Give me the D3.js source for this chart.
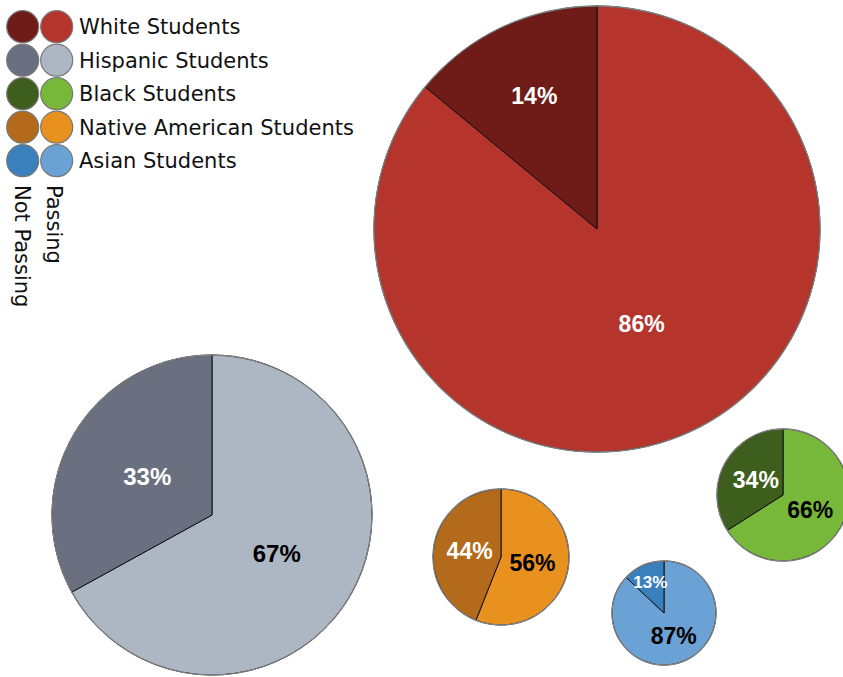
<!DOCTYPE html>
<html>
<head>
<meta charset="utf-8">
<script src="https://cdn.jsdelivr.net/npm/d3@7"></script>
<style>
  html, body { margin: 0; padding: 0; background: #ffffff; }
  svg { display: block; }
</style>
</head>
<body>
<svg id="chart" width="843" height="677"></svg>
<script>
// ---------- data ----------
const categories = ["White Students", "Hispanic Students", "Black Students", "Native American Students", "Asian Students"];
const passingPct = [86, 67, 66, 56, 87];
const notPassingPct = [14, 33, 34, 44, 13];
const seriesNames = ["Passing", "Not Passing"];

// ---------- styles ----------
const passColors = ["#b5352c", "#adb6c3", "#77b83a", "#e8911f", "#6ba2d6"];
const failColors = ["#6f1c18", "#6b7081", "#3e5e1e", "#b36a1a", "#3a80bd"];
const passLabelColors = ["#ffffff", "#000000", "#000000", "#000000", "#000000"];
const failLabelColor = "#ffffff";

// ---------- layout (pie placement) ----------
const pieLayout = {
  "White Students":           { cx: 597, cy: 229, r: 223 },
  "Hispanic Students":        { cx: 212, cy: 515, r: 160 },
  "Black Students":           { cx: 783, cy: 495, r: 66 },
  "Native American Students": { cx: 501, cy: 557, r: 68 },
  "Asian Students":           { cx: 664, cy: 613, r: 52 }
};

const svg = d3.select("#chart");

const pie = d3.pie().sort(null).value(d => d.value);

categories.forEach((cat, i) => {
  const L = pieLayout[cat];
  const slices = pie([
    { key: "pass", value: passingPct[i], color: passColors[i], labelColor: passLabelColors[i] },
    { key: "fail", value: notPassingPct[i], color: failColors[i], labelColor: failLabelColor }
  ]);
  const g = svg.append("g").attr("transform", `translate(${L.cx},${L.cy})`);
  const arc = d3.arc().innerRadius(0).outerRadius(L.r);

  g.selectAll("path.slice").data(slices).join("path")
    .attr("class", "slice")
    .attr("d", arc)
    .attr("fill", d => d.data.color)
    .attr("stroke", "#111")
    .attr("stroke-width", 1)
    .attr("stroke-linejoin", "round");

  g.append("circle")
    .attr("r", L.r)
    .attr("fill", "none")
    .attr("stroke", "#808080")
    .attr("stroke-width", 1.3);

  g.selectAll("text.lbl").data(slices).join("text")
    .attr("class", "lbl")
    .attr("transform", d => {
      const share = d.data.value / 100;
      const k = share < 0.2 ? 0.66 : 0.47;
      const la = d3.arc().innerRadius(L.r * k).outerRadius(L.r * k);
      const [x, y] = la.centroid(d);
      return `translate(${x},${y})`;
    })
    .attr("text-anchor", "middle")
    .attr("dy", "0.36em")
    .attr("font-family", "'Liberation Sans', Arial, sans-serif")
    .attr("font-weight", "bold")
    .attr("font-size", d => (d.data.value / 100 < 0.2 && L.r < 100) ? 17 : (L.r > 150 && L.r < 200 ? 24 : 23))
    .attr("fill", d => d.data.labelColor)
    .text(d => d.data.value + "%");
});

// ---------- legend ----------
const legend = svg.append("g");
const rowY = d3.scalePoint().domain(categories).range([26.7, 160.7]);
const colX = d3.scalePoint().domain(["Not Passing", "Passing"]).range([22.7, 56.7]);

categories.forEach((cat, i) => {
  legend.append("circle")
    .attr("cx", colX("Not Passing")).attr("cy", rowY(cat)).attr("r", 16)
    .attr("fill", failColors[i]).attr("stroke", "#777").attr("stroke-width", 1.2);
  legend.append("circle")
    .attr("cx", colX("Passing")).attr("cy", rowY(cat)).attr("r", 16)
    .attr("fill", passColors[i]).attr("stroke", "#777").attr("stroke-width", 1.2);
  legend.append("text")
    .attr("x", 79).attr("y", rowY(cat)).attr("dy", "0.35em")
    .attr("font-family", "'DejaVu Sans', sans-serif")
    .attr("font-size", 21)
    .attr("fill", "#111")
    .text(cat);
});

[["Not Passing", 15], ["Passing", 47]].forEach(([name, bx]) => {
  legend.append("text")
    .attr("transform", `translate(${bx},185) rotate(90)`)
    .attr("font-family", "'DejaVu Sans', sans-serif")
    .attr("font-size", 21)
    .attr("fill", "#111")
    .text(name);
});
</script>
</body>
</html>
